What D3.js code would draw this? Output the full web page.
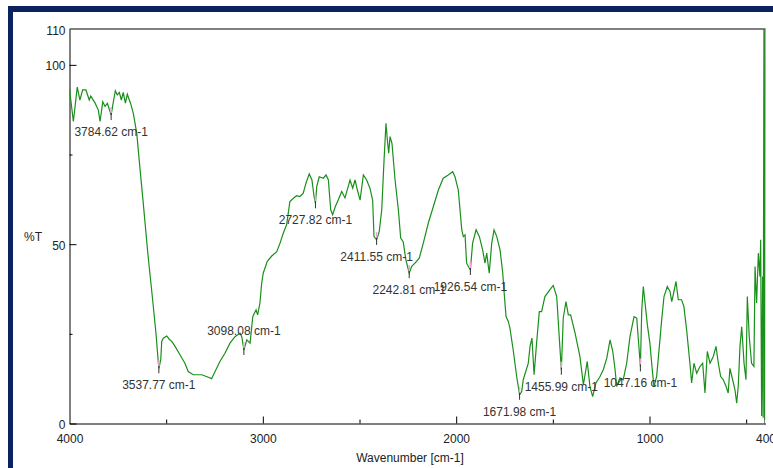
<!DOCTYPE html>
<html>
<head>
<meta charset="utf-8">
<script src="https://cdn.jsdelivr.net/npm/d3@7"></script>
<style>
  body { margin: 0; background: #fff; }
  svg { display: block; font-family: "Liberation Sans", Arial, sans-serif; }
</style>
</head>
<body>
<div id="chart"></div>
<script>
// spectrum (wavenumber in cm-1, %T)
const wavenumber = [
  4000,3980,3960,3946,3932,3915,3898,3890,3868,3851,
  3842,3828,3816,3804,3784.62,3777,3763,3753,3742,3732,
  3722,3711,3701,3683,3670,3652,3642,3620,3594,3570,
  3553,3541,3537.77,3528,3523,3515,3497,3484,3471,3454,
  3428,3403,3386,3360,3316,3282,3265,3247,3222,3196,
  3170,3144,3118,3109,3098.08,3083,3066,3052,3035,3027,
  3015,3006,2998,2977,2954,2928,2911,2894,2877,2860,
  2842,2825,2808,2791,2777,2760,2746,2735,2727.82,2721,
  2708,2687,2673,2661,2649,2639,2625,2610,2592,2575,
  2549,2535,2523,2511,2497,2480,2463,2446,2432,2425,
  2411.55,2398,2385,2373,2363,2356,2349,2342,2332,2316,
  2299,2287,2274,2260,2242.81,2230,2213,2191,2170,2144,
  2118,2092,2067,2041,2018,2006,1989,1971,1963,1954,
  1946,1926.54,1915,1897,1880,1863,1851,1842,1829,1816,
  1804,1790,1773,1759,1753,1742,1730,1722,1705,1687,
  1671.98,1661,1653,1627,1618,1608,1597,1584,1570,1558,
  1541,1515,1498,1480,1467,1455.99,1446,1432,1420,1408,
  1385,1360,1342,1322,1308,1294,1277,1256,1239,1221,
  1204,1190,1178,1170,1153,1136,1118,1101,1080,1066,
  1047.16,1040,1032,1023,1011,998,984,977,963,949,
  937,925,908,894,885,877,863,851,834,822,
  808,791,782,770,756,739,725,713,701,687,
  670,656,644,632,618,604,593,584,570,558,
  549,541,532,523,511,501,494,484,472,460,
  454,446,437,429,425,420,415,412,408,404,400
];
const transmittance = [
  93.2,84.2,93.8,90.2,93.0,93.0,90.2,91.3,89.4,87.4,
  84.2,89.7,88.4,89.3,86.0,88.5,92.8,91.6,92.3,90.2,
  92.3,89.3,91.8,89.1,86.5,80.9,74.9,62.3,47.0,34.5,
  25.3,17.3,15.4,17.8,22.9,23.8,24.4,23.5,22.9,21.5,
  19.1,16.8,14.5,13.6,13.6,12.9,12.5,14.5,17.3,19.6,
  22.4,24.2,25.2,24.2,20.5,23.3,22.4,29.8,31.7,30.3,
  33.6,39.1,41.9,45.2,46.7,47.9,50.3,53.1,55.4,61.9,
  62.8,63.5,63.3,64.2,67.0,69.6,67.9,63.3,61.4,66.1,
  68.8,68.4,69.3,67.9,59.6,58.2,60.5,62.3,64.7,62.9,
  67.9,65.6,67.9,65.1,62.3,69.3,67.9,65.6,62.3,52.1,
  51.2,53.5,59.6,73.5,83.7,79.1,75.4,80.0,78.1,67.9,
  59.6,51.7,50.7,45.6,41.9,43.8,44.7,46.1,50.3,55.9,
  60.5,65.1,68.4,69.3,70.2,68.8,65.1,54.0,52.1,52.6,
  44.7,42.8,50.3,54.0,52.1,48.4,44.7,47.5,41.9,50.3,
  54.0,52.1,48.4,41.9,37.3,29.8,28.4,26.6,20.5,13.1,
  8.0,8.9,12.2,16.8,21.5,23.8,13.6,22.4,31.2,31.2,
  35.4,37.3,38.5,35.4,24.2,15.0,29.5,34.0,30.3,30.3,
  25.2,18.7,10.8,17.3,10.3,7.5,11.3,13.1,15.0,18.2,
  23.3,20.1,15.0,10.3,12.7,12.2,16.8,24.2,29.8,29.4,
  15.9,31.7,38.2,33.6,27.5,22.4,14.0,10.3,13.1,21.5,
  28.9,35.4,38.2,36.8,34.0,35.9,39.6,34.5,34.5,32.6,
  26.1,16.8,11.3,16.8,14.0,15.9,16.8,8.5,20.1,16.8,
  18.7,21.5,16.8,13.1,12.2,10.3,8.5,15.4,12.2,9.4,
  5.7,10.3,21.5,27.0,16.8,12.2,35.4,24.2,16.8,15.9,
  43.8,33.6,47.5,41.0,51.2,2.1,41.0,1.6,112,1.0,112
];

// picked peaks
const peaks = [3784.62, 3537.77, 3098.08, 2727.82, 2411.55, 2242.81, 1926.54, 1671.98, 1455.99, 1047.16];
const peaksLabelAbove = [3098.08];

const xTicks = [4000, 3000, 2000, 1000, 400];
const xMinorTicks = [3500, 2500, 1500, 500];
const yTicks = [0, 50, 100, 110];
const yMinorTicks = [25, 75];

const width = 773, height = 468;
const plotLeft = 69.5, plotRight = 765.5, plotTop = 29, plotBottom = 423.5;

const svg = d3.select('#chart').append('svg')
  .attr('width', width)
  .attr('height', height);

// navy frame (left and top only)
svg.append('rect').attr('x', 8).attr('y', 6).attr('width', 5).attr('height', height - 6).attr('fill', '#0b2260');
svg.append('rect').attr('x', 8).attr('y', 6).attr('width', width - 8).attr('height', 6).attr('fill', '#0b2260');

const x = d3.scaleLinear().domain([4000, 400]).range([plotLeft, plotRight]);
const y = d3.scaleLinear().domain([0, 110]).range([plotBottom, plotTop]);

svg.append('clipPath').attr('id', 'plot-clip')
  .append('rect')
  .attr('x', plotLeft).attr('y', plotTop)
  .attr('width', plotRight - plotLeft).attr('height', plotBottom - plotTop);

// top and right border
svg.append('line')
  .attr('x1', plotLeft).attr('x2', plotRight).attr('y1', plotTop).attr('y2', plotTop)
  .attr('stroke', '#808080').attr('stroke-width', 2);
svg.append('line')
  .attr('x1', plotRight - 1).attr('x2', plotRight - 1).attr('y1', plotTop).attr('y2', plotBottom)
  .attr('stroke', '#808080').attr('stroke-width', 1);

// axes
const xAxis = svg.append('g')
  .attr('transform', `translate(0,${plotBottom})`)
  .call(d3.axisBottom(x).tickValues(xTicks).tickSize(-7).tickSizeOuter(0).tickPadding(11).tickFormat(d3.format('d')));
svg.append('g')
  .attr('transform', `translate(0,${plotBottom})`)
  .call(d3.axisBottom(x).tickValues(xMinorTicks).tickSize(-4).tickSizeOuter(0).tickFormat(''))
  .call(g => g.select('.domain').remove());

const yAxis = svg.append('g')
  .attr('transform', `translate(${plotLeft},0)`)
  .call(d3.axisLeft(y).tickValues(yTicks).tickSize(-7).tickSizeOuter(0).tickPadding(4));
svg.append('g')
  .attr('transform', `translate(${plotLeft},0)`)
  .call(d3.axisLeft(y).tickValues(yMinorTicks).tickSize(-3).tickSizeOuter(0).tickFormat(''))
  .call(g => g.select('.domain').remove());

svg.selectAll('.tick text')
  .attr('font-size', 12)
  .attr('font-family', '"Liberation Sans", Arial, sans-serif')
  .attr('fill', '#222');
yAxis.selectAll('.tick text').attr('dy', '0.42em');
yAxis.selectAll('.tick').filter(d => d === 110).select('line').remove();
xAxis.selectAll('.tick').filter(d => d === 4000 || d === 400).select('line').remove();

// axis titles
svg.append('text')
  .attr('x', 24).attr('y', 241)
  .attr('font-size', 12).attr('fill', '#222')
  .text('%T');
svg.append('text')
  .attr('x', 410).attr('y', 462)
  .attr('text-anchor', 'middle')
  .attr('font-size', 12).attr('fill', '#222')
  .text('Wavenumber [cm-1]');

// spectrum
const points = wavenumber.map((w, i) => [w, transmittance[i]]);
const line = d3.line()
  .x(d => x(d[0]))
  .y(d => y(d[1]));

svg.append('path')
  .datum(points)
  .attr('clip-path', 'url(#plot-clip)')
  .attr('d', line)
  .attr('fill', 'none')
  .attr('stroke', '#1a8f1a')
  .attr('stroke-width', 1.2);

// peak markers and labels
const peakData = peaks.map(p => ({ wn: p, t: transmittance[wavenumber.indexOf(p)] }));
const pk = svg.append('g').selectAll('g').data(peakData).join('g');

pk.append('line')
  .attr('x1', d => x(d.wn)).attr('x2', d => x(d.wn))
  .attr('y1', d => y(d.t) - 8).attr('y2', d => y(d.t) - 2)
  .attr('stroke', '#f2a0e0').attr('stroke-width', 1.5);
pk.append('line')
  .attr('x1', d => x(d.wn)).attr('x2', d => x(d.wn))
  .attr('y1', d => y(d.t) - 2).attr('y2', d => y(d.t) + 5)
  .attr('stroke', '#333').attr('stroke-width', 1);
pk.append('text')
  .attr('x', d => x(d.wn))
  .attr('y', d => peaksLabelAbove.includes(d.wn) ? y(d.t) - 15 : y(d.t) + 21)
  .attr('text-anchor', 'middle')
  .attr('font-size', 12)
  .attr('fill', '#333')
  .text(d => d.wn.toFixed(2) + ' cm-1');
</script>
</body>
</html>
